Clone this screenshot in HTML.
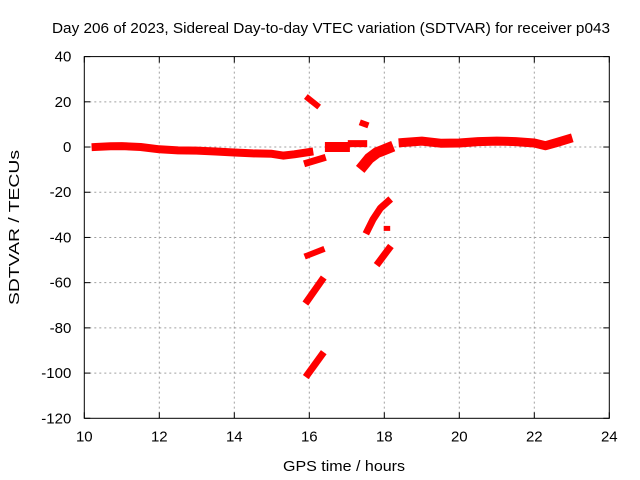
<!DOCTYPE html>
<html><head><meta charset="utf-8"><style>
html,body{margin:0;padding:0;background:#fff;}
svg{display:block;font-family:"Liberation Sans",sans-serif;}
</style></head><body>
<svg id="chart" width="640" height="480" viewBox="0 0 640 480" xmlns="http://www.w3.org/2000/svg">
<rect x="0" y="0" width="640" height="480" fill="#fff"/>
<g id="grid"></g>
<g id="series"></g>
<rect x="84.3" y="56.6" width="525" height="361.7" fill="none" stroke="#000" stroke-width="1"/>
<g id="ticks"></g>
<text x="52" y="33" font-size="15" textLength="558" lengthAdjust="spacingAndGlyphs">Day 206 of 2023, Sidereal Day-to-day VTEC variation (SDTVAR) for receiver p043</text>
<text x="283" y="471" font-size="15" textLength="122" lengthAdjust="spacingAndGlyphs">GPS time / hours</text>
<text x="19" y="305" font-size="15" textLength="155" lengthAdjust="spacingAndGlyphs" transform="rotate(-90 19 305)">SDTVAR / TECUs</text>
</svg>
<script>
const xTicks = [10,12,14,16,18,20,22,24];
const yTicks = [40,20,0,-20,-40,-60,-80,-100,-120];
const segMain = [[10.3,0],[10.7,0.3],[11,0.4],[11.5,0],[12,-1],[12.5,-1.5],[13,-1.6],[13.5,-2],[14,-2.4],[14.5,-2.8],[15,-3],[15.3,-3.8],[15.6,-3.2],[16,-2.2]];
const segB = [[15.95,-7],[16.35,-5]];
const segC = [[15.97,21.5],[16.2,18.5]];
const segD = [[16.55,0],[16.95,0]];
const segE = [[17.12,1.5],[17.45,1.5]];
const segF = [[17.42,10.5],[17.5,10]];
const segG = [[17.45,-8],[17.6,-5],[17.8,-2.5],[18.1,-0.5]];
const segH = [[17.55,-37],[17.7,-32],[17.9,-27],[18.1,-24]];
const segI = [[18.05,-36],[18.09,-36]];
const segJ = [[17.85,-51],[18.12,-45]];
const segK = [[15.95,-48],[16.33,-45.5]];
const segL = [[15.95,-68],[16.33,-59]];
const segM = [[15.96,-100.5],[16.33,-92]];
const segN = [[18.5,2],[19,2.6],[19.5,1.7],[20,1.8],[20.5,2.4],[21,2.6],[21.5,2.4],[22,1.8],[22.3,0.6],[22.6,2],[22.9,3.5]];
const segments = [segMain,segB,segC,segD,segE,segF,segG,segH,segI,segJ,segK,segL,segM,segN];
const widths = [8,7,6,10,7,6,11,7,5,7,6,7,7,9];
const segNames = ['main','b','c','d','e','f','g','h','i','j','k','l','m','n'];

const X0=84.3,X1=609.3,Y0=418.3,Y1=56.6;
function xs(t){return X0+(t-10)/(24-10)*(X1-X0);}
function ys(v){return Y0-(v+120)/(160)*(Y0-Y1);}
const NS='http://www.w3.org/2000/svg';
const grid=document.getElementById('grid'),ticks=document.getElementById('ticks'),ser=document.getElementById('series');
function mk(tag,attrs,parent){const e=document.createElementNS(NS,tag);for(const k in attrs)e.setAttribute(k,attrs[k]);parent.appendChild(e);return e;}
xTicks.forEach(t=>{
  const x=xs(t);
  if(t>10&&t<24){const g=mk('line',{x1:x,x2:x,y1:Y1,y2:Y0,stroke:'#a0a0a0','stroke-dasharray':'2,3'},grid);
  
  }
  const a=mk('line',{x1:x,x2:x,y1:Y0,y2:Y0-6,stroke:'#000'},ticks);
  
  
  const b=mk('line',{x1:x,x2:x,y1:Y1,y2:Y1+6,stroke:'#000'},ticks);
  
  
  const tx=mk('text',{x:x,y:Y0+23,'font-size':15,'text-anchor':'middle'},ticks);
  tx.textContent=t;
  
  
});
yTicks.forEach(v=>{
  const y=ys(v);
  if(v<40&&v>-120){const g=mk('line',{x1:X0,x2:X1,y1:y,y2:y,stroke:'#a0a0a0','stroke-dasharray':'2,3'},grid);
  
  }
  const a=mk('line',{x1:X0,x2:X0+6,y1:y,y2:y,stroke:'#000'},ticks);
  
  
  const b=mk('line',{x1:X1,x2:X1-6,y1:y,y2:y,stroke:'#000'},ticks);
  
  
  const tx=mk('text',{x:X0-13,y:y+5,'font-size':15,'text-anchor':'end'},ticks);
  tx.textContent=v;
  
  
});
segments.forEach((s,i)=>{
  const pts=s.map(p=>xs(p[0]).toFixed(1)+','+ys(p[1]).toFixed(1)).join(' ');
  const pl=mk('polyline',{points:pts,fill:'none',stroke:'#ff0000','stroke-width':widths[i],'stroke-linejoin':'round','stroke-linecap':'square'},ser);
  
  
});
</script>
</body></html>
